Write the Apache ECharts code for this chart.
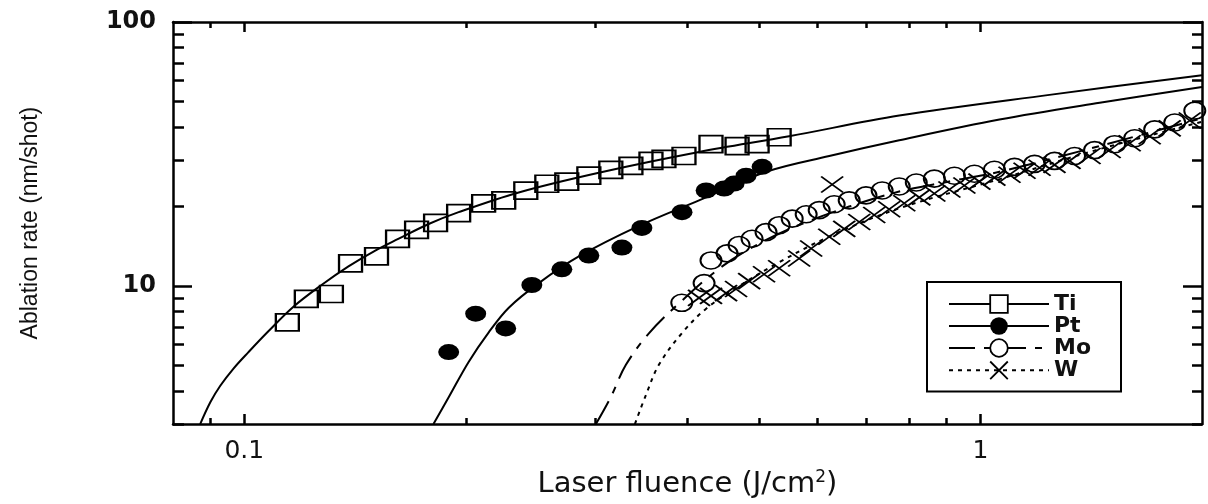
<!DOCTYPE html>
<html><head><meta charset="utf-8">
<script src="https://cdn.jsdelivr.net/npm/echarts@6/dist/echarts.min.js"></script>
<style>html,body{margin:0;padding:0;background:#fff}#c{width:1208px;height:504px}</style>
</head><body><div id="c"></div>
<script>
// ---- axis ticks / labels ----
const xMajorTicks = [0.1, 1];
const xMinorTicks = [0.09, 0.2, 0.3, 0.4, 0.5, 0.6, 0.7, 0.8, 0.9];
const yMajorTicks = [10, 100];
const yMinorTicks = [3, 4, 5, 6, 7, 8, 9, 20, 30, 40, 50, 60, 70, 80, 90];
const xLabelValues = [0.1, 1];
const yLabelValues = [10, 100];
const categories = ['Ti', 'Pt', 'Mo', 'W'];

// ---- measured data (fluence J/cm2, ablation rate nm/shot) ----
const tiData = [[0.1144,7.28],[0.1214,8.94],[0.1313,9.33],[0.1394,12.18],[0.1512,12.94],[0.1615,15.1],[0.1714,16.32],[0.1819,17.34],[0.1955,18.88],[0.2114,20.58],[0.2251,21.11],[0.2412,23.0],[0.2576,24.4],[0.2742,24.86],[0.2938,26.18],[0.3147,27.56],[0.3351,28.5],[0.3568,29.78],[0.3716,30.3],[0.3956,31.08],[0.4305,34.45],[0.4671,33.88],[0.4973,34.45],[0.5328,36.6]];
const ptData = [[0.1895,5.62],[0.2062,7.86],[0.2265,6.91],[0.2458,10.09],[0.27,11.57],[0.2938,13.05],[0.3258,13.98],[0.3468,16.6],[0.3932,19.05],[0.424,23.01],[0.4486,23.41],[0.4628,24.43],[0.4804,26.17],[0.5051,28.28]];
const moData = [[0.3929,8.64],[0.4213,10.26],[0.4305,12.5],[0.4527,13.3],[0.470,14.3],[0.4895,15.1],[0.5114,16.0],[0.5328,17.0],[0.555,18.0],[0.5798,18.7],[0.6039,19.38],[0.6329,20.4],[0.6633,21.11],[0.6991,22.04],[0.7354,23.01],[0.7757,23.82],[0.8182,24.66],[0.8657,25.51],[0.9218,26.17],[0.9813,26.63],[1.0447,27.56],[1.1125,28.28],[1.1844,29.02],[1.2608,29.78],[1.3424,31.08],[1.4292,32.73],[1.5217,34.45],[1.6201,36.28],[1.7248,39.21],[1.8364,41.63],[1.9553,46.15]];
const wData = [[0.4147,9.02],[0.4305,9.18],[0.4513,9.4],[0.4656,9.74],[0.4851,10.44],[0.5082,11.08],[0.5328,11.68],[0.5672,12.72],[0.5889,13.87],[0.6289,24.23],[0.6232,15.37],[0.6531,16.46],[0.6845,17.48],[0.7173,18.57],[0.7517,19.54],[0.788,20.58],[0.826,21.67],[0.8657,22.42],[0.9075,23.21],[0.951,24.03],[0.9968,24.86],[1.0447,25.73],[1.0952,26.4],[1.148,27.33],[1.2032,28.04],[1.2608,28.77],[1.3216,29.78],[1.4069,31.08],[1.4981,32.73],[1.595,34.75],[1.698,36.91],[1.8077,39.54],[1.9249,42.36]];

// ---- fitted curves ----
const tiFit = [[0.0871,3.0],[0.0899,3.63],[0.0928,4.2],[0.0966,4.86],[0.1013,5.62],[0.1078,6.74],[0.1166,8.35],[0.1273,10.09],[0.1385,11.87],[0.1498,13.51],[0.1621,15.11],[0.178,17.18],[0.1955,19.05],[0.2359,22.62],[0.3031,26.86],[0.4147,32.18],[0.5497,36.91],[0.7757,44.21],[1.241,52.97],[2.0,62.9]];
const ptFit = [[0.1807,3.0],[0.1895,3.79],[0.2017,5.16],[0.2148,6.68],[0.2287,8.28],[0.2512,10.26],[0.2847,12.94],[0.3436,16.89],[0.4147,21.11],[0.5114,27.09],[0.6232,31.08],[0.7757,35.66],[1.0614,42.72],[1.452,49.43],[2.0,56.7]];
const moFit = [[0.3003,3.0],[0.3147,3.8],[0.3299,5.03],[0.3545,6.62],[0.3929,8.79],[0.4442,11.78],[0.5004,14.47],[0.5672,17.03],[0.6633,20.0],[0.7757,22.8],[0.9075,24.9],[1.0614,27.1],[1.4518,33.9],[2.0,43.2]];
const wFit = [[0.3393,3.0],[0.3515,3.89],[0.3657,5.03],[0.3929,6.62],[0.424,8.21],[0.47,10.0],[0.5328,12.3],[0.6232,15.4],[0.7757,19.7],[1.0614,25.4],[1.4518,33.0],[2.0,41.9]];

const X_MIN = 0.08, X_MAX = 2, Y_MIN = 3, Y_MAX = 100;
const INK = '#000';
const crossPath = 'path://M0 0L10 10M10 0L0 10';
const fmt = v => String(+Number(v).toPrecision(6));

function xAx(pos, ticks, len, showLine, showLabel, extra) {
  return Object.assign({
    type: 'log', logBase: 10, position: pos, min: X_MIN, max: X_MAX, gridIndex: 0,
    axisLine: { show: showLine, lineStyle: { color: INK, width: 2.5 } },
    axisTick: { show: true, inside: true, length: len, customValues: ticks, lineStyle: { color: INK, width: 2.5 } },
    axisLabel: showLabel ? { show: true, customValues: xLabelValues, formatter: fmt, margin: 15,
      fontFamily: 'DejaVu Sans', fontSize: 25, color: '#111' } : { show: false },
    splitLine: { show: false }, minorTick: { show: false }
  }, extra || {});
}
function yAx(pos, ticks, len, showLine, showLabel, extra) {
  return Object.assign({
    type: 'log', logBase: 10, position: pos, min: Y_MIN, max: Y_MAX, gridIndex: 0,
    axisLine: { show: showLine, lineStyle: { color: INK, width: 2.5 } },
    axisTick: { show: true, inside: true, length: len, customValues: ticks, lineStyle: { color: INK, width: 2.5 } },
    axisLabel: showLabel ? { show: true, customValues: yLabelValues, formatter: fmt, margin: 17,
      fontFamily: 'DejaVu Sans', fontWeight: 'bold', fontSize: 24, color: '#111' } : { show: false },
    splitLine: { show: false }, minorTick: { show: false }
  }, extra || {});
}

const option = {
  backgroundColor: '#fff',
  animation: false,
  grid: { left: 173, right: 6, top: 22, bottom: 74, containLabel: false },
  xAxis: [
    xAx('bottom', xMajorTicks, 10, true, true, {
      name: 'Laser fluence (J/cm{sup|2})', nameLocation: 'middle', nameGap: 44,
      nameTextStyle: { fontFamily: 'DejaVu Sans', fontSize: 29, color: '#111',
        rich: { sup: { fontFamily: 'DejaVu Sans', fontSize: 17, verticalAlign: 'top', padding: [0, 0, 14, 0], color: '#111' } } }
    }),
    xAx('bottom', xMinorTicks, 6, false, false),
    xAx('top', xMajorTicks, 10, true, false),
    xAx('top', xMinorTicks, 6, false, false)
  ],
  yAxis: [
    yAx('left', yMajorTicks, 19, true, true, {
      name: 'Ablation rate (nm/shot)', nameLocation: 'middle', nameGap: 131, nameRotate: 90,
      nameTextStyle: { fontFamily: "'Liberation Sans', Arial, sans-serif", fontSize: 23, color: '#111' }
    }),
    yAx('left', yMinorTicks, 11, false, false),
    yAx('right', yMajorTicks, 19, true, false),
    yAx('right', yMinorTicks, 10, false, false)
  ],
  legend: {
    orient: 'vertical', left: 927, top: 282,
    padding: [11, 30, 10, 21], itemGap: 0, itemWidth: 100, itemHeight: 22,
    borderColor: INK, borderWidth: 2, borderRadius: 0,
    textStyle: { fontFamily: 'DejaVu Sans', fontWeight: 'bold', fontSize: 22, color: '#111' },
    data: [
      { name: 'Ti', itemStyle: { color: '#fff', borderColor: INK, borderWidth: 1.8 } },
      { name: 'Pt', itemStyle: { color: INK, borderColor: INK, borderWidth: 0 } },
      { name: 'Mo', itemStyle: { color: '#fff', borderColor: INK, borderWidth: 1.8 } },
      { name: 'W', itemStyle: { color: 'none', borderColor: INK, borderWidth: 1.8 } }
    ]
  },
  series: [
    { name: categories[0], type: 'line', data: tiFit, smooth: 0.35, showSymbol: false, symbol: 'rect', silent: true,
      lineStyle: { color: INK, width: 2 }, itemStyle: { color: INK }, z: 2 },
    { name: categories[1], type: 'line', data: ptFit, smooth: 0.35, showSymbol: false, symbol: 'circle', silent: true,
      lineStyle: { color: INK, width: 2 }, itemStyle: { color: INK }, z: 2 },
    { name: categories[2], type: 'line', data: moFit, smooth: 0.35, showSymbol: false, symbol: 'circle', silent: true,
      lineStyle: { color: INK, width: 2, type: [26, 9, 7, 9] }, itemStyle: { color: INK }, z: 2 },
    { name: categories[3], type: 'line', data: wFit, smooth: 0.35, showSymbol: false, symbol: crossPath, silent: true,
      lineStyle: { color: INK, width: 2, type: [4, 5] }, itemStyle: { color: INK }, z: 2 },
    { name: categories[0], type: 'scatter', data: tiData, symbol: 'rect', symbolSize: [23, 17],
      itemStyle: { color: 'rgba(0,0,0,0)', borderColor: INK, borderWidth: 2, opacity: 1 }, z: 3 },
    { name: categories[1], type: 'scatter', data: ptData, symbol: 'circle', symbolSize: [21, 16],
      itemStyle: { color: INK, opacity: 1 }, z: 3 },
    { name: categories[2], type: 'scatter', data: moData, symbol: 'circle', symbolSize: [21, 17],
      itemStyle: { color: 'rgba(0,0,0,0)', borderColor: INK, borderWidth: 1.8, opacity: 1 }, z: 3 },
    { name: categories[3], type: 'scatter', data: wData, symbol: crossPath, symbolSize: [22, 16],
      itemStyle: { color: 'none', borderColor: INK, borderWidth: 1.8, opacity: 1 }, z: 3 }
  ]
};
const chart = echarts.init(document.getElementById('c'));
chart.setOption(option);
</script>
</body></html>
